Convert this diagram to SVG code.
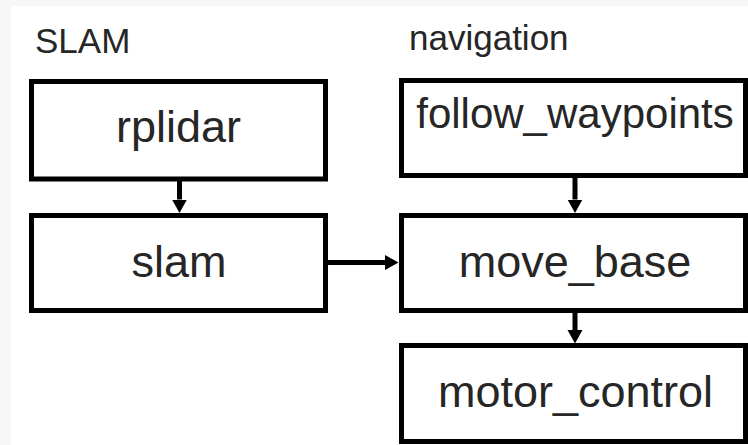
<svg xmlns="http://www.w3.org/2000/svg" width="748" height="445" viewBox="0 0 748 445">
  <style>
    .box { fill: #ffffff; stroke: #000000; stroke-width: 5; }
    .lbl { font-family: "Liberation Sans", Arial, sans-serif; font-size: 45px; fill: #262626; text-anchor: middle; }
    .title { font-family: "Liberation Sans", Arial, sans-serif; font-size: 35px; fill: #262626; }
    .conn { stroke: #000000; stroke-width: 5; fill: none; }
  </style>
  <defs>
    <marker id="arrow" markerUnits="userSpaceOnUse" markerWidth="14" markerHeight="16" viewBox="0 0 14 16" refX="0" refY="8" orient="auto">
      <path d="M0,0.5 L13.5,8 L0,15.5 Z" fill="#000000"/>
    </marker>
  </defs>
  <rect x="0" y="0" width="748" height="445" fill="#f7f7f7"/>
  <rect x="11" y="6" width="737" height="439" fill="#ffffff"/>

  <g id="title-slam">
    <text class="title" x="35" y="53">SLAM</text>
  </g>
  <g id="title-navigation">
    <text class="title" x="409" y="50">navigation</text>
  </g>

  <g id="rplidar">
    <rect class="box" x="31.5" y="81.5" width="294" height="97.5"/>
    <text class="lbl" x="178.5" y="142">rplidar</text>
  </g>
  <g id="slam">
    <rect class="box" x="31.5" y="215.5" width="294" height="95"/>
    <text class="lbl" x="179" y="277">slam</text>
  </g>
  <g id="follow_waypoints">
    <rect class="box" x="401.5" y="80.5" width="344" height="95"/>
    <text class="lbl" x="575" y="128" style="font-size:42px">follow_waypoints</text>
  </g>
  <g id="move_base">
    <rect class="box" x="401.5" y="215.5" width="344" height="95"/>
    <text class="lbl" x="575" y="277">move_base</text>
  </g>
  <g id="motor_control">
    <rect class="box" x="401.5" y="345.5" width="344" height="96"/>
    <text class="lbl" x="575.5" y="407">motor_control</text>
  </g>

  <g id="connectors">
    <line class="conn" x1="179.5" y1="181" x2="179.5" y2="199.5" marker-end="url(#arrow)"/>
    <line class="conn" x1="575" y1="178" x2="575" y2="199.5" marker-end="url(#arrow)"/>
    <line class="conn" x1="575" y1="313" x2="575" y2="330" marker-end="url(#arrow)"/>
    <line class="conn" x1="328" y1="262.5" x2="385" y2="262.5" marker-end="url(#arrow)"/>
  </g>
</svg>
